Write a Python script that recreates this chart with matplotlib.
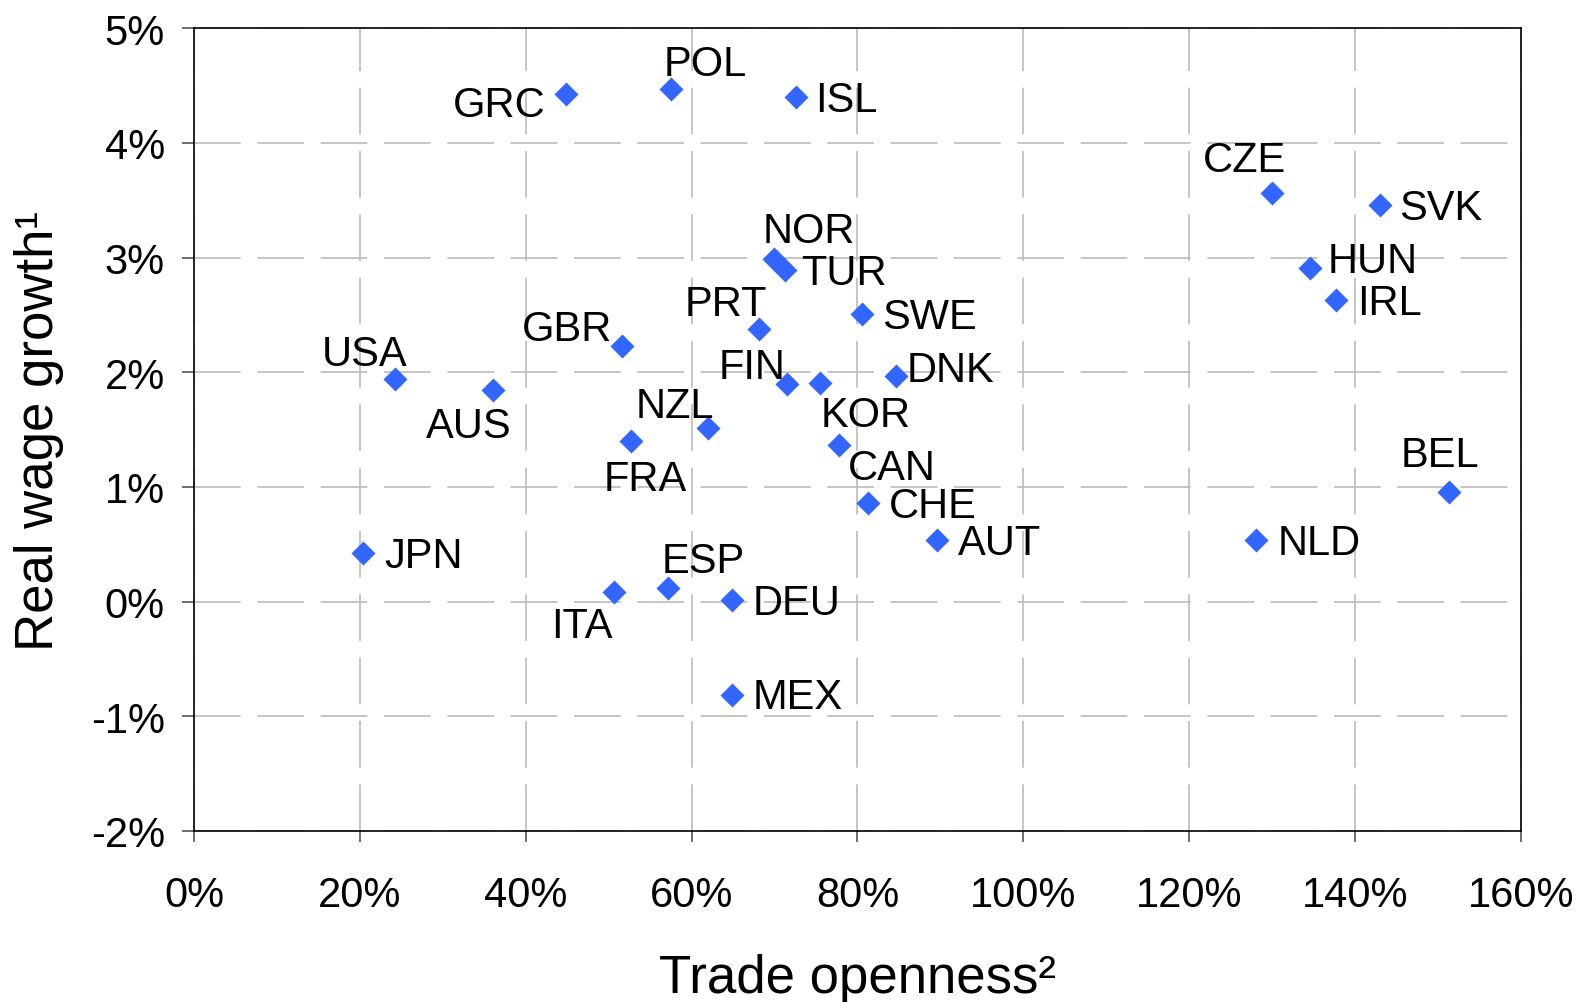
import matplotlib.pyplot as plt
from matplotlib.ticker import FuncFormatter

plt.rcParams['font.family'] = ['Liberation Sans', 'DejaVu Sans']

# trade openness (%) and real wage growth (%) by country
countries = ['GRC', 'POL', 'ISL', 'CZE', 'SVK', 'NOR', 'TUR', 'HUN', 'IRL', 'PRT',
             'SWE', 'GBR', 'USA', 'AUS', 'FIN', 'KOR', 'DNK', 'NZL', 'FRA', 'CAN',
             'CHE', 'BEL', 'AUT', 'NLD', 'JPN', 'ESP', 'ITA', 'DEU', 'MEX']
openness = [44.8, 57.5, 72.6, 130.0, 143.0, 69.9, 71.2, 134.5, 137.7, 68.1,
            80.5, 51.6, 24.2, 36.0, 71.5, 75.5, 84.6, 62.0, 52.7, 77.8,
            81.3, 151.3, 89.6, 128.0, 20.4, 57.2, 50.6, 64.9, 64.9]
wage_growth = [4.43, 4.47, 4.40, 3.56, 3.46, 2.99, 2.89, 2.91, 2.63, 2.38,
               2.51, 2.23, 1.94, 1.85, 1.90, 1.91, 1.97, 1.51, 1.40, 1.37,
               0.86, 0.96, 0.54, 0.54, 0.42, 0.12, 0.08, 0.01, -0.81]

# label offsets (points) and alignment
label_pos = {
    'GRC': (-14, -6, 'right'), 'POL': (-5, 20, 'left'), 'ISL': (14, 0, 'left'),
    'CZE': (10, 26, 'right'), 'SVK': (14, 0, 'left'), 'NOR': (-8, 22, 'left'),
    'TUR': (12, 0, 'left'), 'HUN': (13, 7, 'left'), 'IRL': (15, 0, 'left'),
    'PRT': (6, 20, 'right'), 'SWE': (15, 0, 'left'), 'GBR': (-7, 14, 'right'),
    'USA': (9, 20, 'right'), 'AUS': (14, -24, 'right'), 'FIN': (-1, 14, 'right'),
    'KOR': (0, -21, 'left'), 'DNK': (8, 6, 'left'), 'NZL': (-52, 18, 'left'),
    'FRA': (-20, -25, 'left'), 'CAN': (6, -15, 'left'), 'CHE': (15, 0, 'left'),
    'BEL': (-35, 28, 'left'), 'AUT': (15, 0, 'left'), 'NLD': (16, 0, 'left'),
    'JPN': (15, 0, 'left'), 'ESP': (-5, 21, 'left'), 'ITA': (-45, -22, 'left'),
    'DEU': (15, 0, 'left'), 'MEX': (15, 0, 'left'),
}

fig = plt.figure(figsize=(15.77, 10.03), dpi=100)
ax = fig.add_axes([0.123, 0.1705, 0.8415, 0.8003])

ax.scatter(openness, wage_growth, marker='D', s=150, color='#3366FF', zorder=3, linewidths=0)

for name, x, y in zip(countries, openness, wage_growth):
    dx, dy, ha = label_pos[name]
    ax.annotate(name, (x, y), xytext=(dx, dy - 2), textcoords='offset points',
                ha=ha, va='center', fontsize=30, zorder=4)

ax.set_xlim(0, 160)
ax.set_ylim(-2, 5)
ax.set_xticks(range(0, 161, 20))
ax.set_yticks(range(-2, 6))
ax.xaxis.set_major_formatter(FuncFormatter(lambda v, p: f'{v:.0f}%'))
ax.yaxis.set_major_formatter(FuncFormatter(lambda v, p: f'{v:.0f}%'))
ax.grid(True, color='#BBBBBB', linewidth=1.2, linestyle=(0, (28, 10)))
ax.set_axisbelow(True)

ax.tick_params(axis='x', direction='out', length=8, width=1.2, color='#555555',
               labelsize=30, pad=24)
ax.tick_params(axis='y', direction='out', length=9, width=1.2, color='#555555',
               labelsize=30, pad=12)
for sp in ax.spines.values():
    sp.set_linewidth(1.2)

ax.set_xlabel('Trade openness²', fontsize=38, labelpad=27)
ax.set_ylabel('Real wage growth¹', fontsize=38, labelpad=19)

fig.savefig('out.png', dpi=100)
